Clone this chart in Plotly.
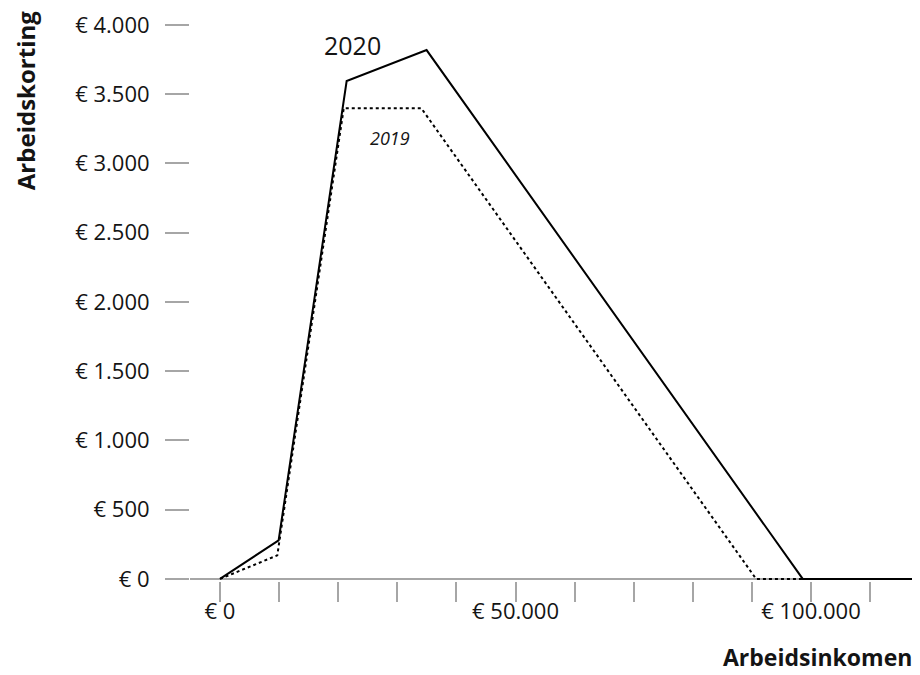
import plotly.graph_objects as go

# Data (income in euro, arbeidskorting in euro)
inkomen_2020 = [0, 9921, 21430, 34954, 98604, 120000]
korting_2020 = [0, 279, 3595, 3819, 0, 0]
inkomen_2019 = [0, 9694, 20940, 34060, 90710, 120000]
korting_2019 = [0, 170, 3399, 3399, 0, 0]

y_tick_vals = [0, 500, 1000, 1500, 2000, 2500, 3000, 3500, 4000]
y_tick_text = ["€ 0", "€ 500", "€ 1.000", "€ 1.500", "€ 2.000", "€ 2.500", "€ 3.000", "€ 3.500", "€ 4.000"]
x_tick_vals = [0, 10000, 20000, 30000, 40000, 50000, 60000, 70000, 80000, 90000, 100000, 110000]
x_tick_text = ["€ 0", "", "", "", "", "€ 50.000", "", "", "", "", "€ 100.000", ""]

FONT = "Open Sans"
GRAY = "#a6a6a6"
INK = "#141414"

fig = go.Figure()
fig.add_trace(go.Scatter(x=inkomen_2019, y=korting_2019, mode="lines",
                         line=dict(color="black", width=2, dash="dot"), name="2019"))
fig.add_trace(go.Scatter(x=inkomen_2020, y=korting_2020, mode="lines",
                         line=dict(color="black", width=2), name="2020"))

fig.add_annotation(x=22420, y=3856, text="2020", showarrow=False,
                   font=dict(family=FONT, size=25, color=INK))
fig.add_annotation(x=28765, y=3184, text="<i>2019</i>", showarrow=False,
                   font=dict(family=FONT, size=18, color=INK))

fig.add_annotation(xref="paper", yref="paper", x=1.0, y=-0.1367, xanchor="right", yanchor="middle",
                   xshift=-6, text="<b>Arbeidsinkomen</b>", showarrow=False,
                   font=dict(family=FONT, size=23, color=INK))
fig.add_annotation(xref="paper", yref="paper", x=-0.226, y=0.863, xanchor="center", yanchor="middle",
                   text="<b>Arbeidskorting</b>", textangle=-90, showarrow=False,
                   font=dict(family=FONT, size=24, color=INK))

fig.update_layout(
    width=912, height=667,
    margin=dict(l=182, r=0, t=17, b=94),
    plot_bgcolor="white", paper_bgcolor="white",
    showlegend=False,
    font=dict(family=FONT, size=22, color=INK),
    xaxis=dict(range=[-5076, 118443], tickvals=x_tick_vals, ticktext=x_tick_text,
               showgrid=False, zeroline=False, showline=False,
               ticks="outside", ticklen=20, tickwidth=1.5, tickcolor=GRAY,
               ticklabelstandoff=-9,
               tickfont=dict(family=FONT, size=22, color=INK)),
    yaxis=dict(range=[-15, 4000], tickvals=y_tick_vals, ticktext=y_tick_text,
               showgrid=False, zeroline=True, zerolinecolor=GRAY, zerolinewidth=1.5,
               showline=False,
               ticks="outside", ticklen=24, tickwidth=1.5, tickcolor=GRAY,
               ticklabelstandoff=11,
               tickfont=dict(family=FONT, size=22, color=INK)),
)

fig.write_html("out.html")
